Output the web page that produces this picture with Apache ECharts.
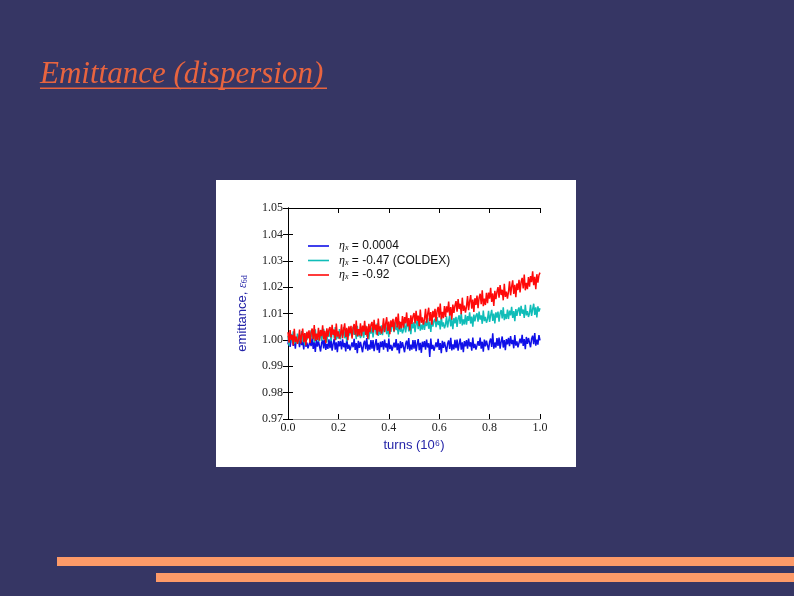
<!DOCTYPE html>
<html>
<head>
<meta charset="utf-8">
<script src="https://cdn.jsdelivr.net/npm/echarts@6/dist/echarts.min.js"></script>
<style>html,body{margin:0;padding:0;background:#363664;}#c{width:794px;height:596px;}</style>
</head>
<body>
<div id="c"></div>
<script>
// Tick labels
var yTicks = [0.97, 0.98, 0.99, 1.00, 1.01, 1.02, 1.03, 1.04, 1.05];
var xTicks = [0.0, 0.2, 0.4, 0.6, 0.8, 1.0];
var seriesNames = ['η_x = 0.0004', 'η_x = -0.47 (COLDEX)', 'η_x = -0.92'];
var legendValues = ['= 0.0004', '= -0.47 (COLDEX)', '= -0.92'];
// samples are evenly spaced in turns from 0 to 1 (10^6)

var blueVals = [
0.9983,1.0015,0.9973,0.9999,1.0019,0.9977,1.0005,0.9967,1.0009,0.9989,
1.0004,0.9972,1.0010,0.9980,0.9996,0.9964,1.0014,0.9974,0.9990,0.9968,
0.9962,0.9994,0.9976,1.0008,0.9966,0.9992,0.9954,1.0000,0.9974,0.9996,
0.9994,0.9956,0.9988,1.0000,0.9968,1.0010,0.9962,0.9985,0.9966,1.0002,
0.9969,1.0001,0.9959,0.9985,1.0005,0.9963,0.9991,0.9953,0.9995,0.9975,
0.9996,0.9964,1.0002,0.9972,0.9988,0.9956,1.0006,0.9966,0.9982,0.9960,
0.9958,0.9990,0.9972,1.0004,0.9962,0.9988,0.9950,0.9996,0.9970,0.9992,
0.9991,0.9953,0.9985,0.9997,0.9965,1.0007,0.9959,0.9982,0.9963,0.9999,
0.9967,0.9999,0.9957,0.9983,1.0003,0.9961,0.9989,0.9951,0.9993,0.9973,
0.9995,0.9963,1.0001,0.9971,0.9987,0.9955,1.0005,0.9965,0.9981,0.9959,
0.9957,0.9989,0.9971,1.0003,0.9961,0.9987,0.9949,0.9995,0.9969,0.9991,
0.9991,0.9953,0.9985,0.9997,0.9965,1.0007,0.9959,0.9982,0.9963,0.9999,
0.9967,0.9999,0.9957,0.9983,1.0003,0.9961,0.9989,0.9951,0.9993,0.9973,
0.9995,0.9963,1.0001,0.9971,0.9987,0.9935,1.0005,0.9965,0.9981,0.9959,
0.9958,0.9990,0.9972,1.0004,0.9962,0.9988,0.9950,0.9996,0.9970,0.9992,
0.9992,0.9954,0.9986,0.9998,0.9966,1.0008,0.9960,0.9983,0.9964,1.0000,
0.9969,1.0001,0.9959,0.9985,1.0005,0.9963,0.9991,0.9953,0.9995,0.9975,
0.9999,0.9967,1.0005,0.9975,0.9991,0.9959,1.0009,0.9969,0.9985,0.9963,
0.9963,0.9995,0.9977,1.0009,0.9967,0.9993,0.9955,1.0001,0.9975,0.9997,
0.9999,0.9961,0.9993,1.0005,0.9973,1.0025,0.9967,0.9990,0.9971,1.0007,
0.9977,1.0009,0.9967,0.9993,1.0013,0.9971,0.9999,0.9961,1.0003,0.9983,
1.0008,0.9976,1.0014,0.9984,1.0000,0.9968,1.0018,0.9978,0.9994,0.9972,
0.9973,1.0005,0.9987,1.0019,0.9977,1.0003,0.9965,1.0011,0.9985,1.0007,
1.0010,0.9972,1.0004,1.0016,0.9984,1.0026,0.9978,1.0001,0.9982,1.0018,
0.9998
];
var cyanVals = [
1.0016,0.9978,1.0010,1.0022,0.9990,1.0032,0.9984,1.0007,0.9988,1.0024,
0.9987,1.0019,1.0001,1.0033,0.9991,1.0017,0.9979,1.0025,0.9999,1.0021,
1.0030,0.9998,1.0036,1.0006,1.0022,0.9990,1.0040,1.0000,1.0016,0.9994,
1.0006,1.0038,0.9996,1.0022,1.0042,1.0000,1.0028,0.9990,1.0032,1.0012,
1.0033,0.9995,1.0027,1.0039,1.0007,1.0049,1.0001,1.0024,1.0005,1.0041,
1.0002,1.0034,1.0016,1.0048,1.0006,1.0032,0.9994,1.0040,1.0014,1.0036,
1.0043,1.0011,1.0049,1.0019,1.0035,1.0003,1.0053,1.0013,1.0029,1.0007,
1.0018,1.0050,1.0008,1.0034,1.0054,1.0012,1.0040,1.0002,1.0044,1.0024,
1.0047,1.0009,1.0041,1.0053,1.0021,1.0063,1.0015,1.0038,1.0019,1.0055,
1.0018,1.0050,1.0032,1.0064,1.0022,1.0048,1.0010,1.0056,1.0030,1.0052,
1.0061,1.0029,1.0067,1.0037,1.0053,1.0021,1.0071,1.0031,1.0047,1.0025,
1.0038,1.0070,1.0028,1.0054,1.0074,1.0032,1.0060,1.0022,1.0064,1.0044,
1.0067,1.0029,1.0061,1.0073,1.0041,1.0083,1.0035,1.0058,1.0039,1.0075,
1.0038,1.0070,1.0052,1.0084,1.0042,1.0068,1.0030,1.0076,1.0050,1.0072,
1.0080,1.0048,1.0086,1.0056,1.0072,1.0040,1.0090,1.0050,1.0066,1.0044,
1.0057,1.0089,1.0047,1.0073,1.0093,1.0051,1.0079,1.0041,1.0083,1.0063,
1.0087,1.0049,1.0081,1.0093,1.0061,1.0103,1.0055,1.0078,1.0059,1.0095,
1.0058,1.0090,1.0072,1.0104,1.0062,1.0088,1.0050,1.0096,1.0070,1.0092,
1.0101,1.0069,1.0107,1.0077,1.0093,1.0061,1.0111,1.0071,1.0087,1.0065,
1.0078,1.0110,1.0068,1.0094,1.0114,1.0072,1.0100,1.0062,1.0104,1.0084,
1.0107,1.0069,1.0101,1.0113,1.0081,1.0123,1.0075,1.0098,1.0079,1.0115,
1.0079,1.0111,1.0093,1.0125,1.0083,1.0109,1.0071,1.0117,1.0091,1.0113,
1.0123,1.0091,1.0129,1.0099,1.0115,1.0083,1.0133,1.0093,1.0109,1.0087,
1.0101,1.0133,1.0091,1.0117,1.0137,1.0095,1.0123,1.0085,1.0127,1.0107,
1.0120
];
var redVals = [
1.0029,0.9989,1.0037,0.9999,1.0019,0.9979,1.0042,0.9992,1.0012,0.9985,
0.9999,1.0039,0.9986,1.0019,1.0043,0.9991,1.0026,0.9979,1.0031,1.0006,
1.0036,0.9988,1.0028,1.0043,1.0003,1.0056,0.9996,1.0024,1.0000,1.0046,
0.9997,1.0037,1.0014,1.0055,1.0002,1.0034,0.9987,1.0044,1.0012,1.0040,
1.0049,1.0009,1.0057,1.0019,1.0039,0.9999,1.0062,1.0012,1.0032,1.0005,
1.0019,1.0059,1.0006,1.0039,1.0063,1.0011,1.0046,0.9999,1.0051,1.0026,
1.0053,1.0005,1.0045,1.0060,1.0020,1.0073,1.0013,1.0041,1.0017,1.0063,
1.0014,1.0054,1.0031,1.0072,1.0019,1.0051,1.0004,1.0061,1.0029,1.0057,
1.0068,1.0028,1.0076,1.0038,1.0058,1.0018,1.0081,1.0031,1.0051,1.0024,
1.0042,1.0082,1.0029,1.0062,1.0086,1.0034,1.0069,1.0022,1.0074,1.0049,
1.0080,1.0032,1.0072,1.0087,1.0047,1.0100,1.0040,1.0068,1.0044,1.0090,
1.0046,1.0086,1.0063,1.0104,1.0051,1.0083,1.0036,1.0093,1.0061,1.0089,
1.0102,1.0062,1.0110,1.0072,1.0092,1.0052,1.0115,1.0065,1.0085,1.0058,
1.0078,1.0118,1.0065,1.0098,1.0122,1.0070,1.0105,1.0058,1.0110,1.0085,
1.0118,1.0070,1.0110,1.0125,1.0085,1.0138,1.0078,1.0106,1.0082,1.0128,
1.0087,1.0127,1.0104,1.0145,1.0092,1.0124,1.0077,1.0134,1.0102,1.0130,
1.0147,1.0107,1.0155,1.0117,1.0137,1.0097,1.0160,1.0110,1.0130,1.0103,
1.0126,1.0166,1.0113,1.0146,1.0170,1.0118,1.0153,1.0106,1.0158,1.0133,
1.0168,1.0120,1.0160,1.0175,1.0135,1.0188,1.0128,1.0156,1.0132,1.0178,
1.0139,1.0179,1.0156,1.0197,1.0144,1.0176,1.0129,1.0186,1.0154,1.0182,
1.0200,1.0160,1.0208,1.0170,1.0190,1.0150,1.0213,1.0163,1.0183,1.0156,
1.0182,1.0222,1.0169,1.0202,1.0226,1.0174,1.0209,1.0162,1.0214,1.0189,
1.0228,1.0180,1.0220,1.0235,1.0195,1.0248,1.0188,1.0216,1.0192,1.0238,
1.0202,1.0242,1.0219,1.0260,1.0207,1.0239,1.0192,1.0249,1.0217,1.0245,
1.0255
];

function pairs(vals) {
  var out = [], n = vals.length - 1;
  for (var i = 0; i < vals.length; i++) out.push([i / n, vals[i]]);
  return out;
}

var chart = echarts.init(document.getElementById('c'), null, {renderer: 'canvas'});
var tickFont = '"Liberation Serif", "DejaVu Serif", serif';
var sansFont = '"Liberation Sans", Arial, sans-serif';
var labelBlue = '#2424a8';

var commonY = {
  type: 'value', min: 0.97, max: 1.05, interval: 0.01,
  splitLine: {show: false},
  axisLine: {show: true, lineStyle: {color: '#000', width: 1}},
  axisTick: {show: true, inside: true, length: 5, lineStyle: {color: '#000'}}
};
var commonX = {
  type: 'value', min: 0, max: 1, interval: 0.2,
  splitLine: {show: false},
  axisLine: {show: true, onZero: false, lineStyle: {color: '#000', width: 1}},
  axisTick: {show: true, inside: true, length: 5, lineStyle: {color: '#000'}}
};

var legendMap = {};
seriesNames.forEach(function (n, i) { legendMap[n] = legendValues[i]; });

chart.setOption({
  backgroundColor: '#363664',
  animation: false,
  graphic: [
    {type: 'rect', silent: true, z: -10, shape: {x: 216, y: 180, width: 360, height: 287}, style: {fill: '#ffffff'}},
    {type: 'text', left: 40, top: 59, style: {text: 'Emittance (dispersion)', font: 'italic 31px "Liberation Serif", "DejaVu Serif", serif', fill: '#e8643f'}},
    {type: 'rect', shape: {x: 40, y: 87.5, width: 287, height: 1.6}, style: {fill: '#e8643f'}},
    {type: 'rect', shape: {x: 57, y: 557, width: 737, height: 9}, style: {fill: '#fd9a68'}},
    {type: 'rect', shape: {x: 156, y: 573, width: 638, height: 9}, style: {fill: '#fd9a68'}}
  ],
  grid: {left: 288, right: 254, top: 208, bottom: 177, containLabel: false},
  legend: {
    orient: 'vertical', left: 303, top: 235, itemGap: 2.5,
    icon: 'rect', itemWidth: 21, itemHeight: 1.6,
    data: seriesNames,
    formatter: function (name) { return '{i|η}{s|x}{t| ' + legendMap[name] + '}'; },
    textStyle: {
      color: '#111', fontSize: 12, fontFamily: sansFont,
      rich: {
        i: {fontFamily: tickFont, fontStyle: 'italic', fontSize: 12, color: '#111', padding: [0, 0, 0, 5]},
        s: {fontFamily: tickFont, fontStyle: 'italic', fontSize: 8, color: '#111', verticalAlign: 'bottom', padding: [4, 0, 0, 0]},
        t: {fontFamily: sansFont, fontSize: 12, color: '#111'}
      }
    }
  },
  xAxis: [
    Object.assign({}, commonX, {
      position: 'bottom',
      axisLine: {show: true, onZero: false, lineStyle: {color: '#9a9a9a', width: 1}},
      axisLabel: {show: true, margin: 3, color: '#222', fontFamily: tickFont, fontSize: 12,
        formatter: function (v) { return v.toFixed(1); }},
      name: 'turns (10⁶)', nameLocation: 'middle', nameGap: 20,
      nameTextStyle: {color: labelBlue, fontFamily: sansFont, fontSize: 13}
    }),
    Object.assign({}, commonX, {position: 'top', axisLabel: {show: false}})
  ],
  yAxis: [
    Object.assign({}, commonY, {
      position: 'left',
      axisLabel: {show: true, margin: 5, color: '#222', fontFamily: tickFont, fontSize: 12,
        formatter: function (v) { return v.toFixed(2); }},
      name: '{a|emittance, }{e|ε}{s|6d}', nameLocation: 'middle', nameGap: 39, nameRotate: 90,
      nameTextStyle: {
        color: labelBlue, fontFamily: sansFont, fontSize: 13,
        rich: {
          a: {color: labelBlue, fontFamily: sansFont, fontSize: 13},
          e: {color: labelBlue, fontFamily: tickFont, fontStyle: 'italic', fontSize: 12},
          s: {color: labelBlue, fontFamily: tickFont, fontSize: 8, verticalAlign: 'bottom', padding: [4, 0, 0, 0]}
        }
      }
    }),
    Object.assign({}, commonY, {position: 'right', axisLabel: {show: false}})
  ],
  series: [
    {name: seriesNames[0], type: 'line', xAxisIndex: 0, yAxisIndex: 0, data: pairs(blueVals), showSymbol: false, symbol: 'none',
      lineStyle: {color: '#1010e8', width: 1.5}, itemStyle: {color: '#1010e8'}},
    {name: seriesNames[1], type: 'line', xAxisIndex: 0, yAxisIndex: 0, data: pairs(cyanVals), showSymbol: false, symbol: 'none',
      lineStyle: {color: '#10bdb8', width: 1.5}, itemStyle: {color: '#10bdb8'}},
    {name: seriesNames[2], type: 'line', xAxisIndex: 0, yAxisIndex: 0, data: pairs(redVals), showSymbol: false, symbol: 'none',
      lineStyle: {color: '#ff0a0a', width: 1.5}, itemStyle: {color: '#ff0a0a'}}
  ]
});
</script>
</body>
</html>
